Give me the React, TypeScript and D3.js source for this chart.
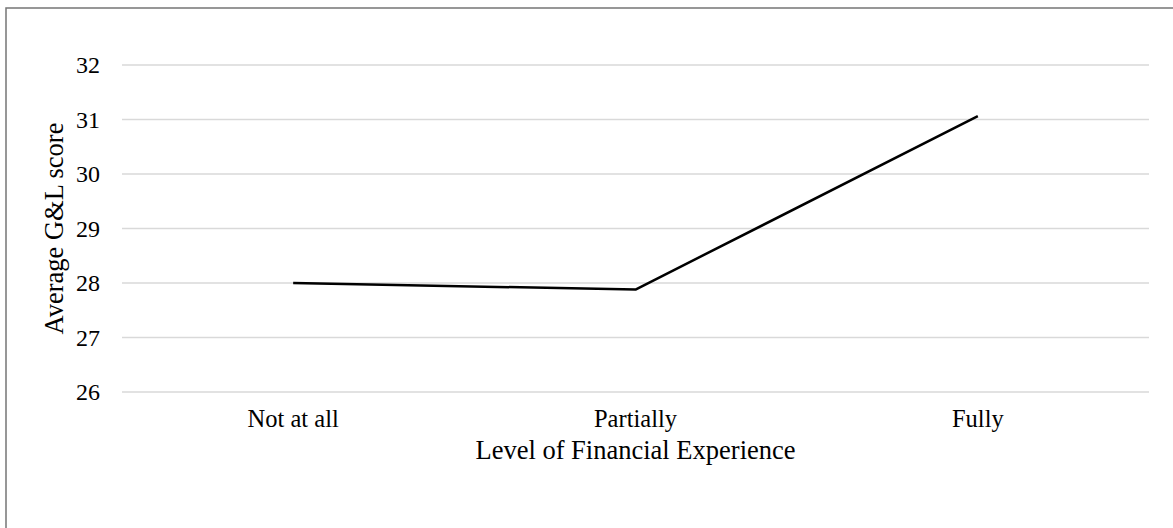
import React from "react";
import * as d3 from "d3";

const categories: string[] = ["Not at all", "Partially", "Fully"];
const scores: number[] = [28.0, 27.88, 31.06];
const yTicks: number[] = [26, 27, 28, 29, 30, 31, 32];
const xTitle = "Level of Financial Experience";
const yTitle = "Average G&L score";

const W = 1173;
const H = 528;
const plot = { left: 122, right: 1149, top: 65, bottom: 392 };
const FONT = "'Liberation Serif', 'Times New Roman', serif";

export default function App() {
  const x = d3
    .scaleBand<string>()
    .domain(categories)
    .range([plot.left, plot.right]);
  const y = d3
    .scaleLinear()
    .domain([26, 32])
    .range([plot.bottom, plot.top]);

  const line = d3
    .line<number>()
    .x((_, i) => (x(categories[i]) as number) + x.bandwidth() / 2)
    .y((d) => y(d));

  return (
    <svg
      width={W}
      height={H}
      style={{ position: "absolute", left: 0, top: 0, background: "#fff" }}
      fontFamily={FONT}
    >
      <rect x={0} y={0} width={W} height={H} fill="#fff" />
      {/* chart frame */}
      <rect
        x={6}
        y={8}
        width={W + 20}
        height={H + 20}
        fill="none"
        stroke="#767676"
        strokeWidth={1.5}
      />
      {/* gridlines */}
      {yTicks.map((t) => (
        <line
          key={t}
          x1={plot.left}
          x2={plot.right}
          y1={y(t)}
          y2={y(t)}
          stroke="#d9d9d9"
          strokeWidth={1.3}
        />
      ))}
      {/* y tick labels */}
      {yTicks.map((t) => (
        <text
          key={"l" + t}
          x={100}
          y={y(t) + 8}
          textAnchor="end"
          fontSize={24}
          fill="#000"
        >
          {t}
        </text>
      ))}
      {/* category labels */}
      {categories.map((c) => (
        <text
          key={c}
          x={(x(c) as number) + x.bandwidth() / 2}
          y={427}
          textAnchor="middle"
          fontSize={24.5}
          fill="#000"
        >
          {c}
        </text>
      ))}
      {/* data line */}
      <path
        d={line(scores) || ""}
        fill="none"
        stroke="#000"
        strokeWidth={2.5}
        strokeLinejoin="round"
      />
      {/* axis titles */}
      <text
        x={(plot.left + plot.right) / 2}
        y={459}
        textAnchor="middle"
        fontSize={26.5}
        fill="#000"
      >
        {xTitle}
      </text>
      <text
        transform={`translate(63, ${(plot.top + plot.bottom) / 2}) rotate(-90)`}
        textAnchor="middle"
        fontSize={26.5}
        fill="#000"
      >
        {yTitle}
      </text>
    </svg>
  );
}
